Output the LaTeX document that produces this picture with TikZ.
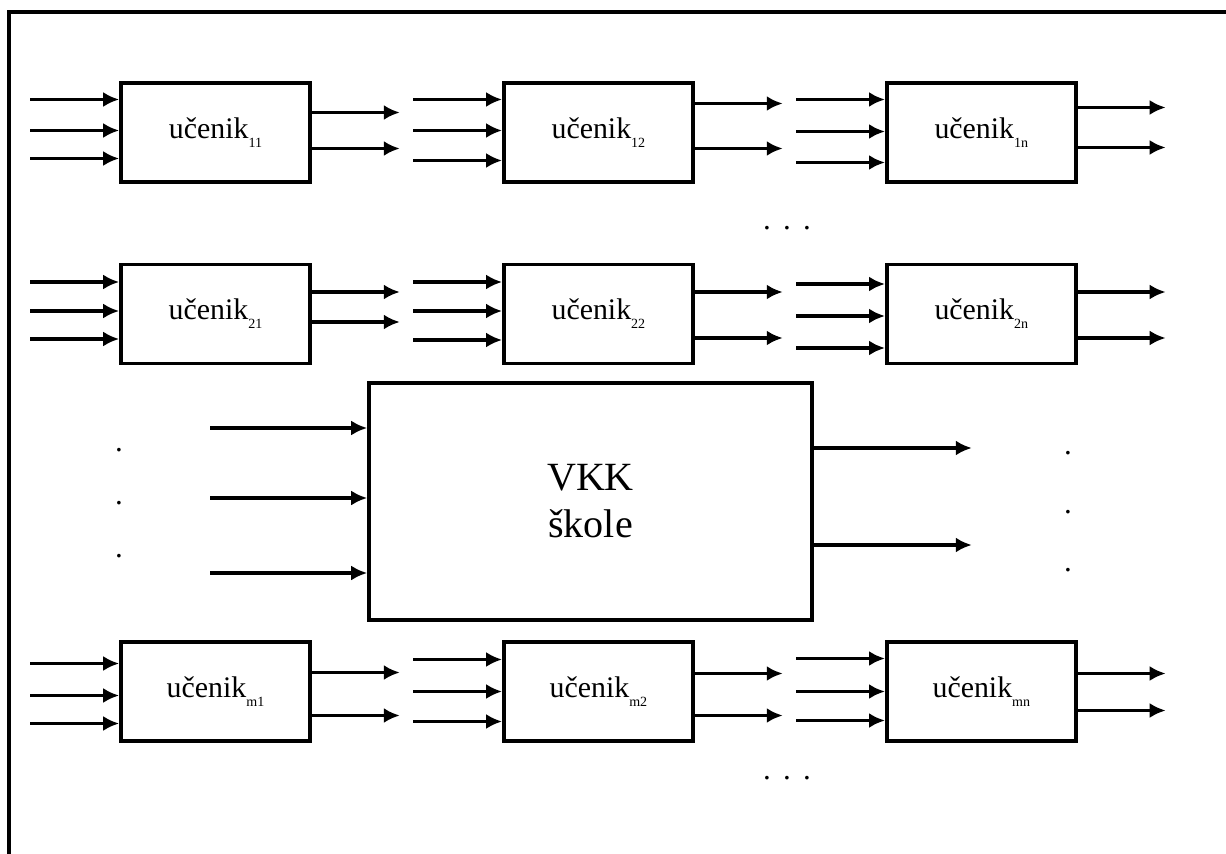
\documentclass[tikz,border=0pt]{standalone}
\usepackage{fontspec}
\setmainfont{Liberation Serif}
\usetikzlibrary{arrows.meta,positioning}
\newcommand{\idx}[1]{\raisebox{-5pt}{\fontsize{8}{9}\selectfont #1}}

\begin{document}
\begin{tikzpicture}[x=0.02cm, y=-0.02cm, >={Latex[length=0.32cm,width=0.3cm]}, node distance=7.66cm, line width=2.1pt]
		 \tikzstyle{pupil} = [draw, rectangle, minimum width=3.78cm, minimum height=1.98cm, font=\fontsize{17}{20}\selectfont];
		 \tikzstyle{school} = [draw, rectangle, minimum width=8.86cm, minimum height=4.74cm, align=center, font=\fontsize{22.8}{26.8}\selectfont];
		 \tikzstyle{dots} = [inner sep=0pt, anchor=base, font=\fontsize{17.6}{20}\selectfont];

		 \useasboundingbox (0,0) rectangle (1226,854);
		 \draw (1226,12) -- (9,12) -- (9,854);

		 \node [pupil] (b11) at (215.5,132.5)  {učenik\idx{11}};
		 \node [pupil] (b12) [right of = b11] {učenik\idx{12}};
		 \node [pupil] (b1n) [right of = b12] {učenik\idx{1n}};

		 \node [pupil] (b21) at (215.5,314)    {učenik\idx{21}};
		 \node [pupil] (b22) [right of = b21] {učenik\idx{22}};
		 \node [pupil] (b2n) [right of = b22] {učenik\idx{2n}};

		 \node [pupil] (bm1) at (215.5,691.5)  {učenik\idx{m1}};
		 \node [pupil] (bm2) [right of = bm1] {učenik\idx{m2}};
		 \node [pupil] (bmn) [right of = bm2] {učenik\idx{mn}};

		 \node [school] (vkk) at (590.5,501.5) {VKK\\škole};

		 % inputs and outputs of the pupils
		 \foreach \b/\ia/\ib/\ic/\oa/\ob in {b11/-33/-2/26/-20/16, b12/-33/-2/28/-29/16, b1n/-33/-1/30/-25/15,
		        b21/-32/-3/25/-22/8, b22/-32/-3/26/-22/24, b2n/-30/2/34/-22/24,
		        bm1/-28/4/32/-19/24, bm2/-32/0/30/-18/24, bmn/-33/0/29/-18/19}
		 {
		   \foreach \d in {\ia,\ib,\ic}
		     \draw [->] ([shift={(-89,\d)}]\b.west) -- ([shift={(0,\d)}]\b.west);
		   \foreach \d in {\oa,\ob}
		     \draw [->] ([shift={(0,\d)}]\b.east) -- ([shift={(88,\d)}]\b.east);
		 }

		 % school
		 \foreach \d in {-73.5,-3.5,71.5}
		   \draw [->] ([shift={(-157,\d)}]vkk.west) -- ([shift={(0,\d)}]vkk.west);
		 \foreach \d in {-53.5,43.5}
		   \draw [->] ([shift={(0,\d)}]vkk.east) -- ([shift={(158,\d)}]vkk.east);

		 \node [dots] (top) at (787,230) {.\hspace{7pt}.\hspace{7pt}.};
		 \node [dots] (bot) at (787,779) {.\hspace{7pt}.\hspace{7pt}.};
		 \foreach \y [count=\i] in {447,500,553}
		   \node [dots] (l\i) at (119,\y+4) {.};
		 \foreach \y [count=\i] in {450,509,567}
		   \node [dots] (r\i) at (1068,\y+4) {.};
\end{tikzpicture}
\end{document}
